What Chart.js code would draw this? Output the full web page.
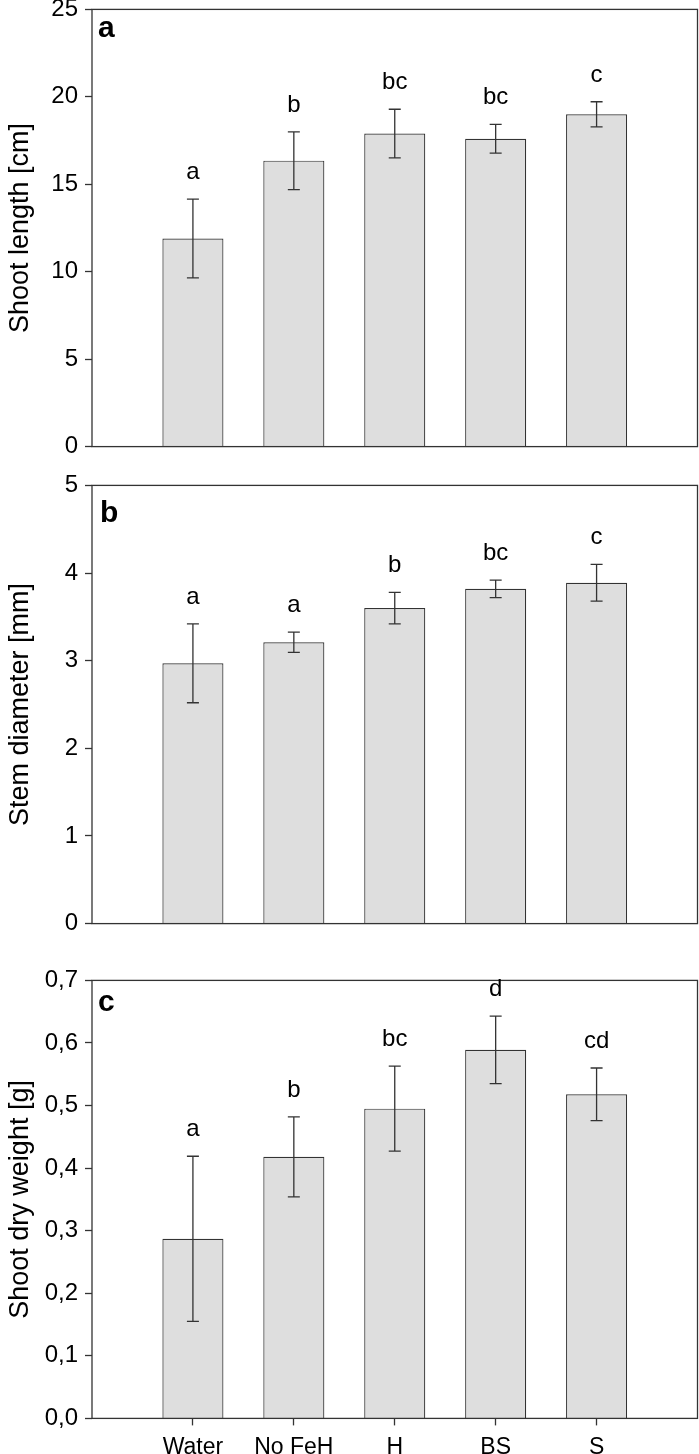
<!DOCTYPE html>
<html>
<head>
<meta charset="utf-8">
<script src="https://cdn.jsdelivr.net/npm/chart.js@4.4.0/dist/chart.umd.min.js"></script>
<style>
html, body { margin: 0; padding: 0; background: #fff; overflow: hidden; }
#wrap { position: relative; width: 699px; height: 1454px; overflow: hidden; }
canvas { position: absolute; left: 0; }
</style>
</head>
<body>
<div id="wrap">
	<canvas id="panelA" width="699" height="480" style="top:-12px"></canvas>
	<canvas id="panelB" width="699" height="481" style="top:464px"></canvas>
	<canvas id="panelC" width="699" height="510" style="top:959px"></canvas>
</div>
<script>
var categories = ['Water', 'No FeH', 'H', 'BS', 'S'];

// a - shoot length [cm], mean and error
var shootLength = [11.9, 16.35, 17.9, 17.6, 19.0];
var shootLengthErr = [2.25, 1.65, 1.39, 0.82, 0.72];
var shootLengthLetters = ['a', 'b', 'bc', 'bc', 'c'];
var shootLengthTicks = [0, 5, 10, 15, 20, 25];

// b - stem diameter [mm]
var stemDiameter = [2.97, 3.21, 3.60, 3.82, 3.89];
var stemDiameterErr = [0.45, 0.115, 0.18, 0.10, 0.21];
var stemDiameterLetters = ['a', 'a', 'b', 'bc', 'c'];
var stemDiameterTicks = [0, 1, 2, 3, 4, 5];

// c - shoot dry weight [g]
var dryWeight = [0.287, 0.418, 0.495, 0.589, 0.518];
var dryWeightErr = [0.132, 0.064, 0.068, 0.054, 0.042];
var dryWeightLetters = ['a', 'b', 'bc', 'd', 'cd'];
var dryWeightTicks = [0, 0.1, 0.2, 0.3, 0.4, 0.5, 0.6, 0.7];

var FONT = "'Liberation Sans', Arial, Helvetica, sans-serif";
var LINE = '#333';

Chart.defaults.font.family = FONT;
Chart.defaults.color = '#000';
Chart.defaults.animation = false;

function plainNum(v) {
	return String(v);
}

function commaNum(v) {
	return v.toFixed(1).replace('.', ',');
}

// frame, error bars, significance letters and the panel tag
function panelPlugin(p) {
	return {
		id: 'panel_' + p.tag,
		afterDatasetsDraw: function(chart) {
			var ctx = chart.ctx;
			var area = chart.chartArea;
			var yScale = chart.scales.y;
			var bars = chart.getDatasetMeta(0).data;

			ctx.save();
			ctx.strokeStyle = LINE;
			ctx.lineWidth = 1.3;
			ctx.strokeRect(area.left, area.top, area.right - area.left, area.bottom - area.top);

			ctx.lineWidth = 1.3;
			ctx.fillStyle = '#000';
			ctx.font = '24px ' + FONT;
			ctx.textAlign = 'center';
			ctx.textBaseline = 'alphabetic';
			for (var i = 0; i < p.means.length; i++) {
				var bar = bars[i + 1];
				var top = yScale.getPixelForValue(p.means[i] + p.err[i]);
				var bot = yScale.getPixelForValue(p.means[i] - p.err[i]);
				ctx.beginPath();
				ctx.moveTo(bar.x, top);
				ctx.lineTo(bar.x, bot);
				ctx.moveTo(bar.x - 6, top);
				ctx.lineTo(bar.x + 6, top);
				ctx.moveTo(bar.x - 6, bot);
				ctx.lineTo(bar.x + 6, bot);
				ctx.stroke();
				ctx.fillText(p.letters[i], bar.x, top - 20);
			}

			ctx.font = 'bold 30px ' + FONT;
			ctx.textAlign = 'left';
			ctx.fillText(p.tag, area.left + p.tagDx, area.top + p.tagDy);
			ctx.restore();
		}
	};
}

function makePanel(id, p) {
	var labels = [''].concat(categories).concat(['']);
	var values = [null].concat(p.means).concat([null]);

	return new Chart(document.getElementById(id), {
		type: 'bar',
		data: {
			labels: labels,
			datasets: [{
				data: values,
				backgroundColor: '#dedede',
				borderColor: LINE,
				borderWidth: 1.2,
				barPercentage: 0.605,
				categoryPercentage: 1
			}]
		},
		options: {
			responsive: false,
			animation: false,
			layout: { padding: { left: 0, right: 1.5, top: 0, bottom: 0 } },
			plugins: {
				legend: { display: false },
				tooltip: { enabled: false }
			},
			scales: {
				x: {
					display: p.showX,
					offset: false,
					grid: { display: true, offset: false, drawOnChartArea: false, tickLength: 7, color: LINE, tickWidth: 1.3 },
					border: { display: false },
					ticks: { padding: 8, font: { size: 23 }, maxRotation: 0, autoSkip: false },
					afterBuildTicks: function(scale) {
						scale.ticks = scale.ticks.filter(function(t) {
							return t.value >= 1 && t.value <= categories.length;
						});
					}
				},
				y: {
					min: p.ticks[0],
					max: p.ticks[p.ticks.length - 1],
					afterBuildTicks: function(scale) {
						scale.ticks = p.ticks.map(function(v) { return { value: v }; });
					},
					afterFit: function(scale) {
						scale.width = 92;
					},
					grid: { drawOnChartArea: false, tickLength: 7, color: LINE, tickWidth: 1.3 },
					border: { display: false },
					ticks: { padding: 7, font: { size: 24 }, callback: p.fmt },
					title: { display: true, text: p.title, font: { size: 27 }, padding: { top: 4, bottom: 4 } }
				}
			}
		},
		plugins: [panelPlugin(p)]
	});
}

makePanel('panelA', {
	means: shootLength, err: shootLengthErr, letters: shootLengthLetters,
	ticks: shootLengthTicks, fmt: plainNum, title: 'Shoot length [cm]',
	showX: false, tag: 'a', tagDx: 6, tagDy: 28
});

makePanel('panelB', {
	means: stemDiameter, err: stemDiameterErr, letters: stemDiameterLetters,
	ticks: stemDiameterTicks, fmt: plainNum, title: 'Stem diameter [mm]',
	showX: false, tag: 'b', tagDx: 8, tagDy: 37
});

makePanel('panelC', {
	means: dryWeight, err: dryWeightErr, letters: dryWeightLetters,
	ticks: dryWeightTicks, fmt: commaNum, title: 'Shoot dry weight [g]',
	showX: true, tag: 'c', tagDx: 6, tagDy: 31
});
</script>
</body>
</html>
